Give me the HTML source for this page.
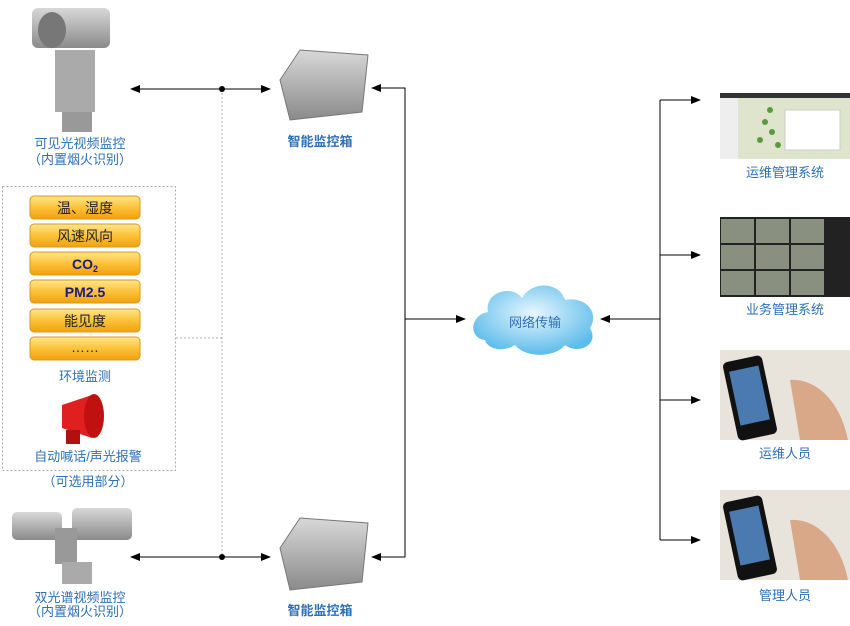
<!DOCTYPE html>
<html><head><meta charset="utf-8"><style>
body{margin:0;background:#fff;}
svg text{font-family:"Liberation Sans","Noto Sans CJK SC",sans-serif;}
</style></head><body>
<svg width="850" height="621" viewBox="0 0 850 621" xmlns="http://www.w3.org/2000/svg">
<defs>
<marker id="a" markerWidth="10" markerHeight="8" refX="9" refY="4" orient="auto" markerUnits="userSpaceOnUse"><path d="M0,0 L10,4 L0,8 z" fill="#000"/></marker>
<marker id="b" markerWidth="10" markerHeight="8" refX="1" refY="4" orient="auto" markerUnits="userSpaceOnUse"><path d="M10,0 L0,4 L10,8 z" fill="#000"/></marker>
<linearGradient id="og" x1="0" y1="0" x2="0" y2="1"><stop offset="0" stop-color="#ffe68a"/><stop offset="0.5" stop-color="#fcc23a"/><stop offset="1" stop-color="#f0a010"/></linearGradient>
<radialGradient id="cl" cx="0.5" cy="0.4" r="0.6"><stop offset="0" stop-color="#e8f6ff"/><stop offset="1" stop-color="#5cbcea"/></radialGradient>
<linearGradient id="gr" x1="0" y1="0" x2="0" y2="1"><stop offset="0" stop-color="#d8d8d8"/><stop offset="1" stop-color="#8a8a8a"/></linearGradient>
</defs>
<!-- top camera -->
<rect x="32" y="8" width="78" height="40" rx="6" fill="url(#gr)"/>
<ellipse cx="52" cy="30" rx="14" ry="18" fill="#777"/>
<rect x="55" y="50" width="40" height="62" fill="#aaa"/>
<rect x="62" y="112" width="30" height="20" fill="#999"/>
<text x="80" y="148" font-size="13" fill="#2e6fb5" text-anchor="middle">可见光视频监控</text>
<text x="80" y="164" font-size="13" fill="#2e6fb5" text-anchor="middle">（内置烟火识别）</text>
<!-- bottom camera -->
<rect x="12" y="512" width="50" height="28" rx="5" fill="url(#gr)"/>
<rect x="72" y="508" width="60" height="32" rx="5" fill="url(#gr)"/>
<rect x="55" y="528" width="22" height="36" fill="#999"/>
<rect x="62" y="562" width="30" height="22" fill="#aaa"/>
<text x="80" y="602" font-size="13" fill="#2e6fb5" text-anchor="middle">双光谱视频监控</text>
<text x="80" y="616" font-size="13" fill="#2e6fb5" text-anchor="middle">（内置烟火识别）</text>
<!-- dashed box -->
<rect x="2.5" y="186.5" width="173" height="284" fill="none" stroke="#aaa" stroke-dasharray="2,2"/>
<g font-size="14" text-anchor="middle" fill="#222" font-family="Liberation Serif,Noto Serif CJK SC,serif">
<rect x="30" y="196" width="110" height="23" rx="4" fill="url(#og)" stroke="#d89a20"/><text x="85" y="213">温、湿度</text>
<rect x="30" y="224" width="110" height="23" rx="4" fill="url(#og)" stroke="#d89a20"/><text x="85" y="241">风速风向</text>
<rect x="30" y="252" width="110" height="23" rx="4" fill="url(#og)" stroke="#d89a20"/><text x="85" y="269" fill="#1a1a80" font-weight="bold">CO<tspan font-size="9" dy="3">2</tspan></text>
<rect x="30" y="280" width="110" height="23" rx="4" fill="url(#og)" stroke="#d89a20"/><text x="85" y="297" fill="#1a1a80" font-weight="bold">PM2.5</text>
<rect x="30" y="309" width="110" height="23" rx="4" fill="url(#og)" stroke="#d89a20"/><text x="85" y="326">能见度</text>
<rect x="30" y="337" width="110" height="23" rx="4" fill="url(#og)" stroke="#d89a20"/><text x="85" y="352">……</text>
</g>
<text x="85" y="381" font-size="13" fill="#2e6fb5" text-anchor="middle">环境监测</text>
<!-- siren -->
<path d="M62,405 L92,395 L92,438 L62,428 z" fill="#e02020"/>
<ellipse cx="94" cy="416" rx="10" ry="22" fill="#c01010"/>
<rect x="66" y="430" width="14" height="14" fill="#b01010"/>
<text x="88" y="461" font-size="13" fill="#2e6fb5" text-anchor="middle">自动喊话/声光报警</text>
<text x="88" y="486" font-size="13" fill="#2e6fb5" text-anchor="middle">（可选用部分）</text>
<!-- dashed lines -->
<line x1="222" y1="89" x2="222" y2="557" stroke="#aaa" stroke-dasharray="2,2"/>
<line x1="176" y1="338" x2="222" y2="338" stroke="#aaa" stroke-dasharray="2,2"/>
<!-- camera to box lines -->
<line x1="131" y1="89" x2="270" y2="89" stroke="#000" marker-start="url(#b)" marker-end="url(#a)"/>
<circle cx="222" cy="89" r="3" fill="#000"/>
<line x1="131" y1="557" x2="270" y2="557" stroke="#000" marker-start="url(#b)" marker-end="url(#a)"/>
<circle cx="222" cy="557" r="3" fill="#000"/>
<!-- boxes -->
<path d="M280,80 L300,50 L368,55 L362,112 L290,120 z" fill="url(#gr)" stroke="#777"/>
<text x="320" y="146" font-size="13" fill="#2e6fb5" text-anchor="middle" font-weight="bold">智能监控箱</text>
<path d="M280,548 L300,518 L368,523 L362,582 L290,590 z" fill="url(#gr)" stroke="#777"/>
<text x="320" y="615" font-size="13" fill="#2e6fb5" text-anchor="middle" font-weight="bold">智能监控箱</text>
<!-- vertical bus -->
<polyline points="372,88 405,88 405,557 372,557" fill="none" stroke="#000" marker-start="url(#b)" marker-end="url(#a)"/>
<line x1="405" y1="319" x2="465" y2="319" stroke="#000" marker-end="url(#a)"/>
<!-- cloud -->
<path d="M485,340 C468,338 470,315 488,312 C484,292 512,284 522,298 C532,280 560,282 565,300 C585,296 600,312 590,328 C600,345 578,355 565,345 C555,358 525,358 515,345 C505,352 488,350 485,340 z" fill="url(#cl)"/>
<text x="535" y="327" font-size="13" fill="#2e6fb5" text-anchor="middle">网络传输</text>
<line x1="660" y1="319" x2="601" y2="319" stroke="#000" marker-end="url(#a)"/>
<line x1="660" y1="100" x2="660" y2="540" stroke="#000"/>
<g stroke="#000">
<line x1="660" y1="100" x2="700" y2="100" marker-end="url(#a)"/>
<line x1="660" y1="255" x2="700" y2="255" marker-end="url(#a)"/>
<line x1="660" y1="400" x2="700" y2="400" marker-end="url(#a)"/>
<line x1="660" y1="540" x2="700" y2="540" marker-end="url(#a)"/>
</g>
<!-- right images -->
<rect x="720" y="93" width="130" height="66" fill="#dfe4cc"/>
<rect x="720" y="93" width="130" height="5" fill="#333"/>
<rect x="720" y="98" width="18" height="61" fill="#eee"/>
<g fill="#5a9a3a"><circle cx="770" cy="110" r="3"/><circle cx="765" cy="122" r="3"/><circle cx="772" cy="132" r="3"/><circle cx="778" cy="145" r="3"/><circle cx="760" cy="140" r="3"/></g>
<rect x="785" y="110" width="55" height="40" fill="#fff" stroke="#ccc"/>
<text x="785" y="177" font-size="13" fill="#2e6fb5" text-anchor="middle">运维管理系统</text>
<rect x="720" y="217" width="130" height="80" fill="#222"/>
<g fill="#8a9080">
<rect x="721" y="219" width="33" height="24"/><rect x="756" y="219" width="33" height="24"/><rect x="791" y="219" width="33" height="24"/>
<rect x="721" y="245" width="33" height="24"/><rect x="756" y="245" width="33" height="24"/><rect x="791" y="245" width="33" height="24"/>
<rect x="721" y="271" width="33" height="24"/><rect x="756" y="271" width="33" height="24"/><rect x="791" y="271" width="33" height="24"/>
</g>
<text x="785" y="314" font-size="13" fill="#2e6fb5" text-anchor="middle">业务管理系统</text>
<rect x="720" y="350" width="130" height="90" fill="#e8e4dc"/>
<rect x="730" y="358" width="40" height="80" rx="5" fill="#111" transform="rotate(-12 750 398)"/>
<rect x="735" y="368" width="30" height="55" fill="#4a7ab0" transform="rotate(-12 750 398)"/>
<path d="M790,380 C815,378 840,400 848,440 L800,440 z" fill="#d8a888"/>
<text x="785" y="458" font-size="13" fill="#2e6fb5" text-anchor="middle">运维人员</text>
<rect x="720" y="490" width="130" height="90" fill="#e8e4dc"/>
<rect x="730" y="498" width="40" height="80" rx="5" fill="#111" transform="rotate(-12 750 538)"/>
<rect x="735" y="508" width="30" height="55" fill="#4a7ab0" transform="rotate(-12 750 538)"/>
<path d="M790,520 C815,518 840,540 848,580 L800,580 z" fill="#d8a888"/>
<text x="785" y="600" font-size="13" fill="#2e6fb5" text-anchor="middle">管理人员</text>
</svg>
</body></html>
